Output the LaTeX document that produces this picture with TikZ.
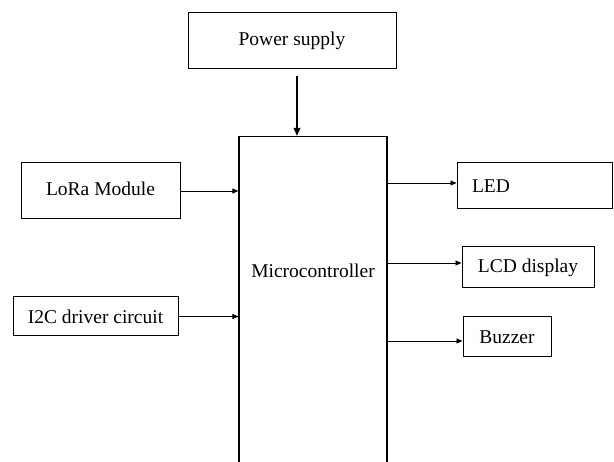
\documentclass[tikz,border=0pt]{standalone}
\usepackage{fontspec}
\setmainfont{Liberation Serif}
\newfontfamily\tms{Liberation Serif}
\usetikzlibrary{arrows.meta}
\begin{document}
\begin{tikzpicture}[x=1pt,y=-1pt,
  lbl/.style={font=\tms\fontsize{19.5}{22}\selectfont},
  box/.style={draw=black, line width=1pt, inner sep=0pt, lbl},
  conn/.style={line width=0.9pt, -{Triangle[length=6pt,width=5pt]}},
  thick conn/.style={line width=1.8pt, -{Triangle[length=8pt,width=6.5pt]}}]
\useasboundingbox[fill=white] (0,0) rectangle (614,462);
\begin{scope}
\clip (0,0) rectangle (614,462);
\node[box, minimum width=208pt, minimum height=56pt] (ps) at (292,41) {\raisebox{5pt}{Power supply}};
\node[box, minimum width=148pt, minimum height=340pt, anchor=north, line width=1.2pt] (micro) at (313,136) {};
\node[lbl] (mtext) at (313,271) {Microcontroller};
\node[box, minimum width=159pt, minimum height=56pt] (lora) at (100.5,191) {\raisebox{5pt}{LoRa Module}};
\node[box, minimum width=165pt, minimum height=39pt] (i2c) at (95.5,316.5) {\raisebox{-5pt}{I2C driver circuit}};
\node[box, minimum width=155pt, minimum height=46pt, text width=125pt, inner xsep=15pt, align=left] (led) at (534.5,186) {LED};
\node[box, minimum width=132pt, minimum height=41pt] (lcd) at (528,267.5) {LCD display};
\node[box, minimum width=88pt, minimum height=40pt] (buz) at (507,337) {\raisebox{-2pt}{Buzzer}};
\draw[thick conn] ([xshift=5pt,yshift=-7pt]ps.south) -- ([xshift=5pt]ps.south |- micro.north);
\draw[conn] (lora.east) -- (lora.east -| micro.west);
\draw[conn] (i2c.east) -- (i2c.east -| micro.west);
\draw[conn] ([yshift=3pt]led.west -| micro.east) -- ([yshift=3pt]led.west);
\draw[conn] ([yshift=4.5pt]lcd.west -| micro.east) -- ([yshift=4.5pt]lcd.west);
\draw[conn] ([yshift=-4pt]buz.west -| micro.east) -- ([yshift=-4pt]buz.west);
\end{scope}
\end{tikzpicture}
\end{document}
